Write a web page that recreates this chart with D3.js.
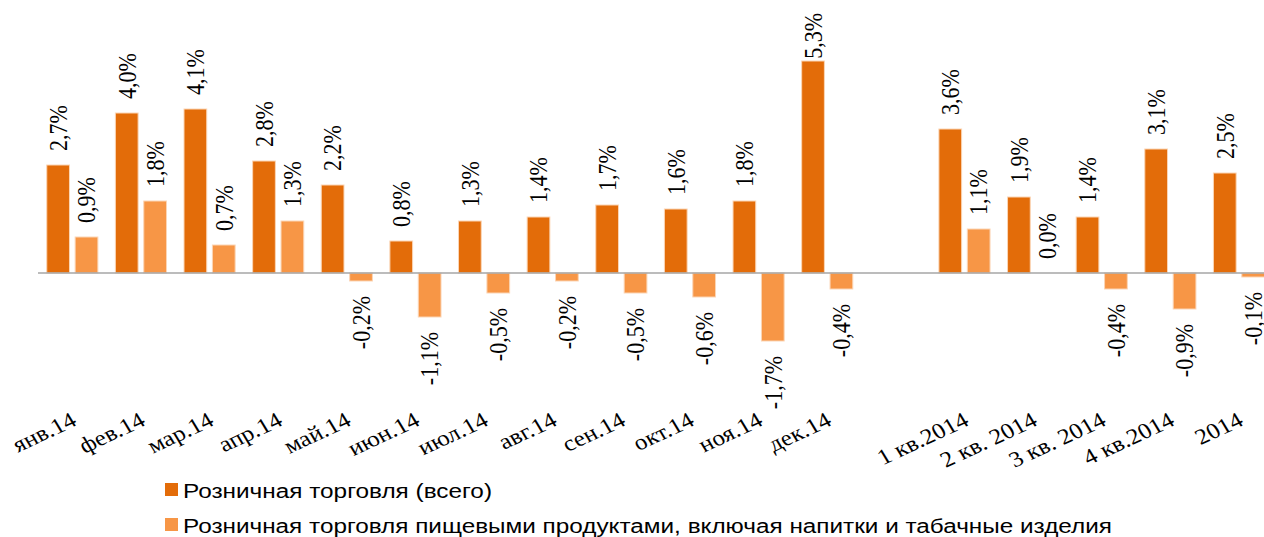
<!DOCTYPE html>
<html><head><meta charset="utf-8">
<script src="https://cdn.jsdelivr.net/npm/d3@7"></script>
<style>html,body{margin:0;padding:0;background:#fff;overflow:hidden}</style>
</head><body>
<svg id="c" width="1264" height="537"></svg>
<script>
const categories = ["янв.14","фев.14","мар.14","апр.14","май.14","июн.14","июл.14","авг.14","сен.14","окт.14","ноя.14","дек.14","","1 кв.2014","2 кв. 2014","3 кв. 2014","4 кв.2014","2014"];
const totalValues = [2.7,4.0,4.1,2.8,2.2,0.8,1.3,1.4,1.7,1.6,1.8,5.3,null,3.6,1.9,1.4,3.1,2.5];
const foodValues  = [0.9,1.8,0.7,1.3,-0.2,-1.1,-0.5,-0.2,-0.5,-0.6,-1.7,-0.4,null,1.1,0.0,-0.4,-0.9,-0.1];
const seriesNames = ["Розничная торговля (всего)","Розничная торговля пищевыми продуктами, включая напитки и табачные изделия"];
const colors = ["#E36C09","#F79646"];

const svg = d3.select("#c");
const slots = categories.map((d,i)=>i);
const x = d3.scaleBand().domain(slots).range([38, 1273.3]).paddingInner(0.255).paddingOuter(0.1275);
const xs = d3.scaleBand().domain([0,1]).range([0, x.bandwidth()]).paddingInner(0.2);
const y = d3.scaleLinear().domain([-2, 6.5]).range([353, 13]);

const series = [totalValues, foodValues];
const fmt = v => d3.format(".1f")(v).replace(".", ",").replace("−","-") + "%";
const stretch = 1.14;

// bars
series.forEach((vals, s) => {
  const g = svg.append("g");
  vals.forEach((v, i) => {
    if (v === null) return;
    const x0 = x(i) + xs(s);
    const yTop = y(Math.max(0, v)), yBot = y(Math.min(0, v));
    g.append("rect").attr("x", x0).attr("y", yTop).attr("width", xs.bandwidth())
      .attr("height", Math.max(0, yBot - yTop)).attr("fill", colors[s])
      .attr("stroke", "#FBD5B5").attr("stroke-width", 1);
  });
});

// zero axis line
svg.append("line").attr("x1", 38).attr("x2", 1273).attr("y1", y(0)).attr("y2", y(0))
  .attr("stroke", "#A6A6A6").attr("stroke-width", 1.5);

// value labels
const lg = svg.append("g").attr("font-family", "'Liberation Serif','Times New Roman',serif").attr("font-size", 22).attr("fill", "#000");
series.forEach((vals, s) => {
  vals.forEach((v, i) => {
    if (v === null) return;
    const cx = x(i) + xs(s) + xs.bandwidth()/2;
    const t = lg.append("text").text(fmt(v)).attr("dy", "0.35em");
    const len = t.node().getComputedTextLength();
    if (v >= 0) {
      let start = y(v) - 14;
      if (start - len < 13) start = 13 + len;
      t.attr("text-anchor", "start").attr("transform", `translate(${cx},${start}) scale(${stretch},1) rotate(-90)`);
    } else {
      const end = y(v) + 15;
      t.attr("text-anchor", "end").attr("transform", `translate(${cx},${end}) scale(${stretch},1) rotate(-90)`);
    }
  });
});

// category labels
const xg = svg.append("g").attr("font-family", "'Liberation Serif','Times New Roman',serif").attr("font-size", 22).attr("fill", "#000");
categories.forEach((c, i) => {
  if (!c) return;
  const cx = x(i) + x.bandwidth()/2;
  xg.append("text").text(c).attr("text-anchor", "end")
    .attr("transform", `translate(${cx - 3},${410}) scale(${stretch},1) rotate(-28)`).attr("dy", "0.75em");
});

// legend
const leg = svg.append("g").attr("font-family", "'Liberation Sans',Arial,sans-serif").attr("font-size", 20).attr("fill", "#000");
const legLen = [309, 929];
seriesNames.forEach((n, s) => {
  const yy = 483 + s*35;
  leg.append("rect").attr("x", 165).attr("y", yy).attr("width", 13).attr("height", 13).attr("fill", colors[s]);
  leg.append("text").attr("x", 183).attr("y", yy + 15).text(n)
    .attr("textLength", legLen[s]).attr("lengthAdjust", "spacingAndGlyphs");
});
</script>
</body></html>
